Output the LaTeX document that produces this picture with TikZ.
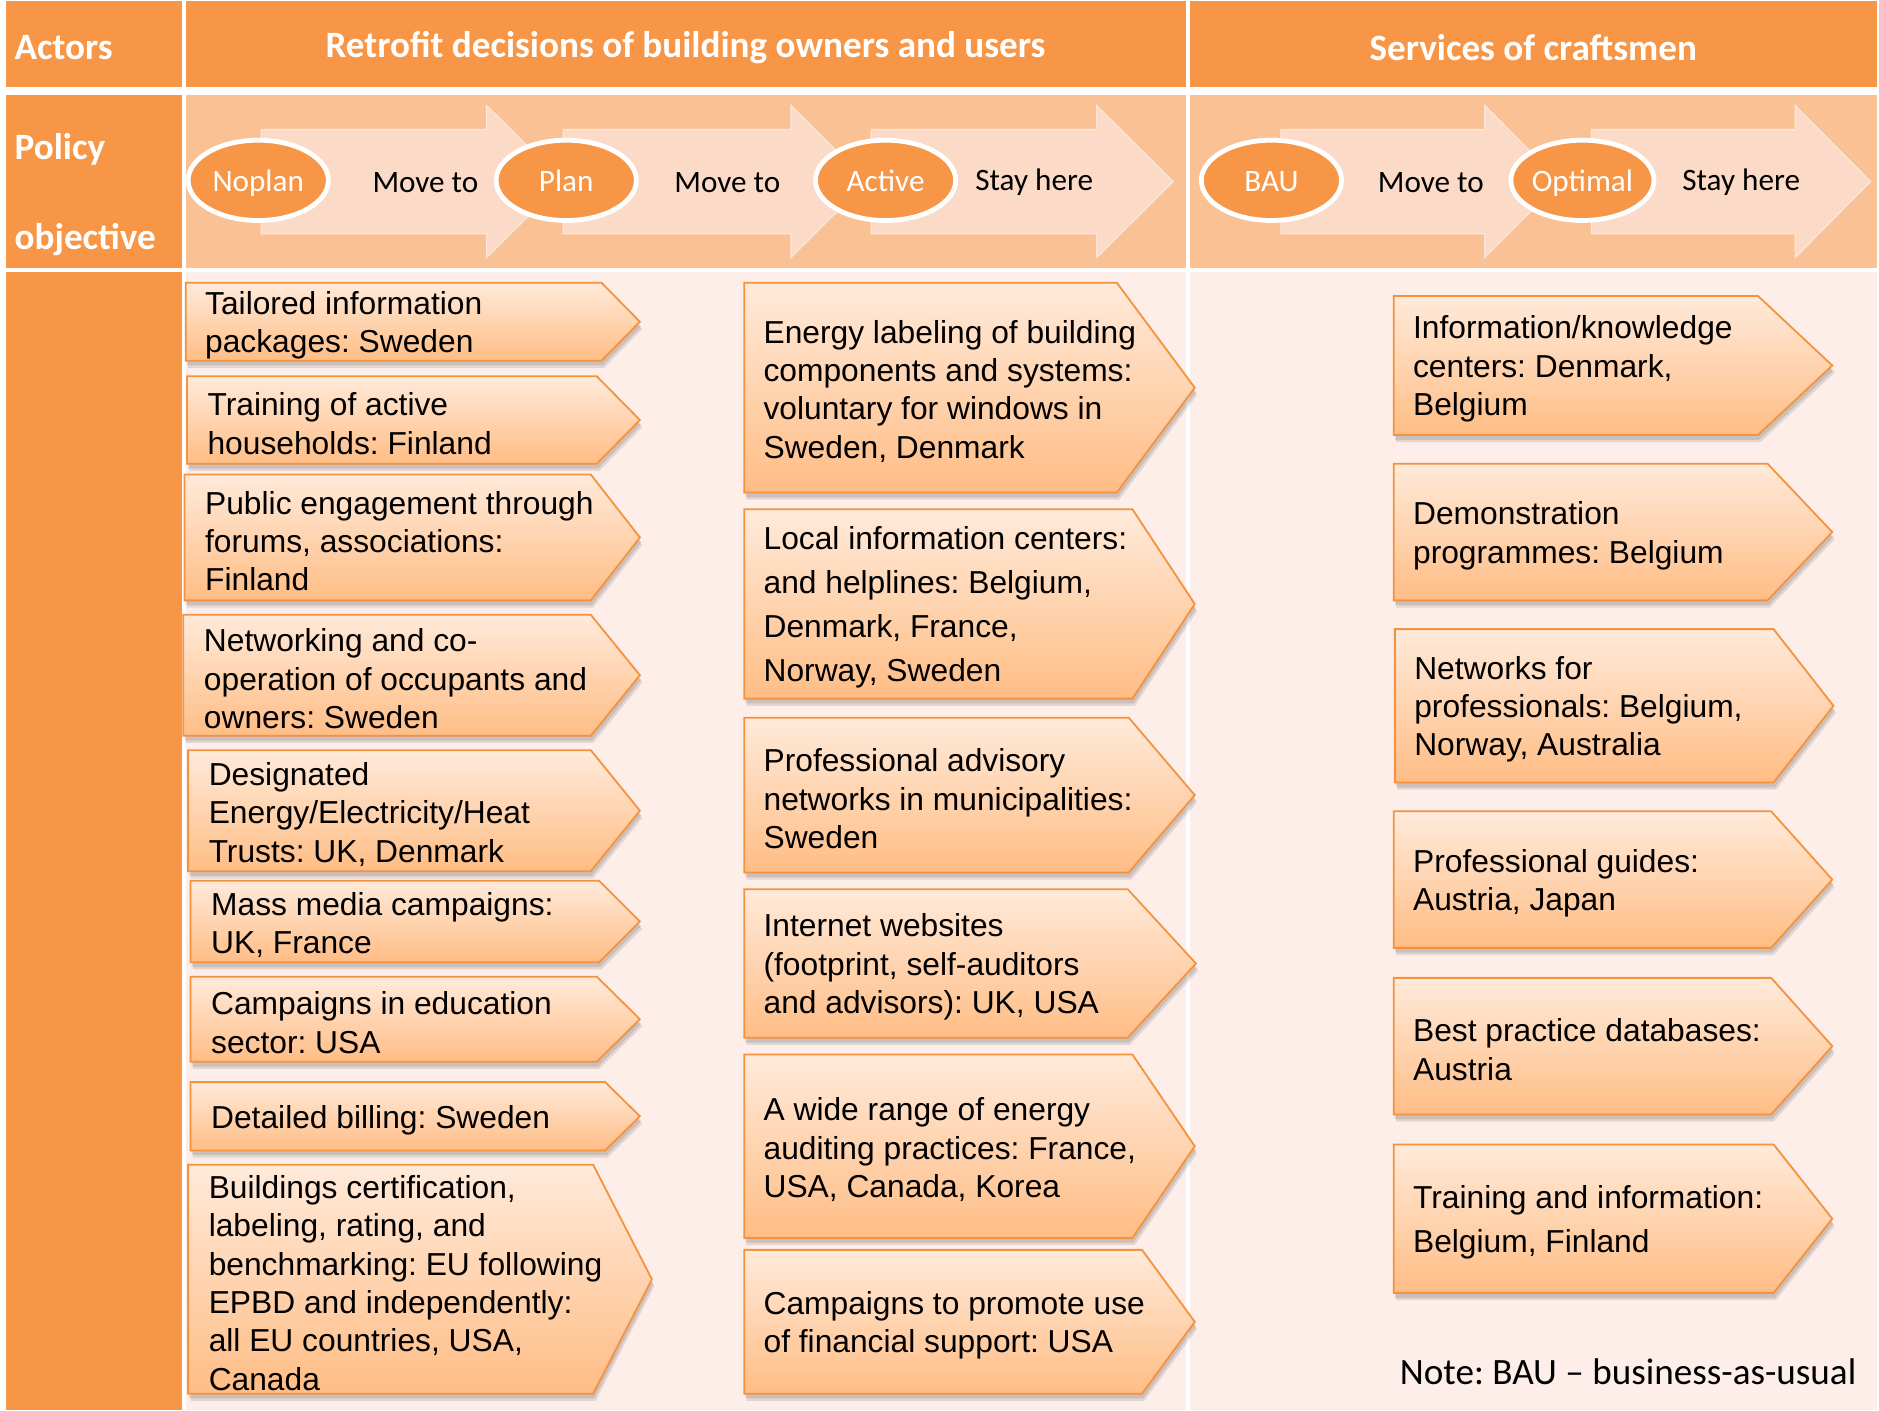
\documentclass[tikz,border=0pt]{standalone}
\usepackage{fontspec}
\setmainfont{Liberation Sans}
\newfontfamily\calib{Carlito}
\usetikzlibrary{shapes.geometric}
\frenchspacing
\definecolor{orD}{HTML}{F79646}
\definecolor{rowB}{HTML}{FAC194}
\definecolor{rowC}{HTML}{FDEEE9}
\definecolor{arrC}{HTML}{FBDBC8}
\definecolor{boxT}{HTML}{FFEADA}
\definecolor{boxB}{HTML}{FFBD85}
\definecolor{boxE}{HTML}{F5923E}
\tikzset{
  hdr/.style={font=\calib\bfseries\fontsize{31}{36}\selectfont, text=white, inner sep=0pt},
  stateell/.style={ellipse, draw=white, line width=4pt, fill=orD, minimum width=117pt, minimum height=67pt, inner sep=0pt, text height=18pt, text depth=0pt, text=white, font=\calib\fontsize{26}{30}\selectfont},
  movetxt/.style={font=\calib\fontsize{26}{30}\selectfont, text=black, inner sep=0pt},
  bigarrow/.style={fill=arrC, draw=arrC!70!white, line width=1pt},
  chevbox/.style={top color=boxT, bottom color=boxB, draw=boxE, line width=1.5pt, line join=miter},
  chevshadow/.style={fill=black, opacity=0.10},
  boxtext/.style={font=\frenchspacing\fontsize{26.5}{32}\selectfont, align=left, inner sep=0pt, anchor=west, text=black},
  widelines/.style={font=\frenchspacing\fontsize{26.5}{36.7}\selectfont},
}
% #1 options, #2 name, #3 left, #4 top, #5 bottom, #6 body right, #7 tip, #8 text x, #9 text
\newcommand\chev[9][]{%
  \fill[chevshadow] (#3+1,#4+4) -- (#6+1,#4+4) -- (#7+1,{(#4+#5)/2+4}) -- (#6+1,#5+4) -- (#3+1,#5+4) -- cycle;
  \fill[chevshadow] (#3+2,#4+6) -- (#6+2,#4+6) -- (#7+2,{(#4+#5)/2+6}) -- (#6+2,#5+6) -- (#3+2,#5+6) -- cycle;
  \path[chevbox] (#3,#4) -- (#6,#4) -- (#7,{(#4+#5)/2}) -- (#6,#5) -- (#3,#5) -- cycle;
  \node[boxtext,#1] (#2) at (#8,{(#4+#5)/2+3}) {#9};
}
\newcommand\bigarr[3]{%
  \path[bigarrow] (#1,108) -- (#2,108) -- (#2,88) -- (#3,151.5) -- (#2,215) -- (#2,195) -- (#1,195) -- cycle;
}
\begin{document}
\begin{tikzpicture}[x=1pt,y=-1pt]
\useasboundingbox (0,0) rectangle (1568,1177);
\fill[white] (0,0) rectangle (1568,1177);
% header row
\fill[orD] (5,1) rectangle (152,73);
\fill[orD] (155,1) rectangle (990,73);
\fill[orD] (993,1) rectangle (1566,73);
% policy row
\fill[orD] (5,79) rectangle (152,224);
\fill[rowB] (155,79) rectangle (990,224);
\fill[rowB] (993,79) rectangle (1566,224);
% body row
\fill[orD] (5,227) rectangle (152,1177);
\fill[rowC] (155,227) rectangle (990,1177);
\fill[rowC] (993,227) rectangle (1566,1177);

% header texts
\node[hdr, anchor=west] (actors) at (12,40) {Actors};
\node[hdr] (retro) at (572,40) {Retrofit decisions of building owners and users};
\node[hdr] (serv) at (1279.5,40) {Services of craftsmen};
\node[hdr, anchor=west] (policy) at (12,125) {Policy};
\node[hdr, anchor=west] (objective) at (12,200) {objective};

% big arrows
\bigarr{218}{406}{470}
\bigarr{470}{660}{724}
\bigarr{727}{915}{979}
\bigarr{1069}{1239}{1302}
\bigarr{1328}{1498}{1561}

% states
\node[stateell] (noplan) at (215.5,150.5) {Noplan};
\node[stateell] (plan) at (472.5,150.5) {Plan};
\node[stateell] (active) at (739,150.5) {Active};
\node[stateell] (bau) at (1061,150.5) {BAU};
\node[stateell] (optimal) at (1320.5,150.5) {Optimal};
\node[movetxt] (mv1) at (355,152) {Move to};
\node[movetxt] (mv2) at (607,152) {Move to};
\node[movetxt] (st1) at (863,152) {Stay here};
\node[movetxt] (mv3) at (1194,152) {Move to};
\node[movetxt] (st2) at (1453,152) {Stay here};

% left column boxes
\chev{a1}{155}{236}{301}{502}{534}{171}{Tailored information\\packages: Sweden}
\chev{a2}{156}{314}{387}{498}{534}{173}{Training of active\\households: Finland}
\chev{a3}{154}{396}{501}{493}{534}{171}{Public engagement through\\forums, associations:\\Finland}
\chev{a4}{153}{513}{614}{493}{534}{170}{Networking and co-\\operation of occupants and\\owners: Sweden}
\chev{a5}{157}{626}{727}{493}{534}{174}{Designated\\Energy/Electricity/Heat\\Trusts: UK, Denmark}
\chev{a6}{159}{735}{803}{500}{534}{176}{Mass media campaigns:\\UK, France}
\chev{a7}{159}{815}{886}{498}{534}{176}{Campaigns in education\\sector: USA}
\chev{a8}{159}{903}{960}{505}{534}{176}{Detailed billing: Sweden}
\chev{a9}{157}{972}{1163}{495}{544}{174}{Buildings certification,\\labeling, rating, and\\benchmarking: EU following\\EPBD and independently:\\all EU countries, USA,\\Canada}

% middle column boxes
\chev{b1}{621}{236}{411}{932}{997}{637}{Energy labeling of building\\components and systems:\\voluntary for windows in\\Sweden, Denmark}
\chev[widelines]{b2}{621}{425}{583}{945}{997}{637}{Local information centers:\\and helplines: Belgium,\\Denmark, France,\\Norway, Sweden}
\chev{b3}{621}{599}{728}{942}{997}{637}{Professional advisory\\networks in municipalities:\\Sweden}
\chev{b4}{621}{742}{866}{941}{998}{637}{Internet websites\\(footprint, self-auditors\\and advisors): UK, USA}
\chev{b5}{621}{880}{1033}{945}{997}{637}{A wide range of energy\\auditing practices: France,\\USA, Canada, Korea}
\chev{b6}{621}{1043}{1163}{953}{997}{637}{Campaigns to promote use\\of financial support: USA}

% right column boxes
\chev{c1}{1163}{247}{363}{1467}{1529}{1179}{Information/knowledge\\centers: Denmark,\\Belgium}
\chev{c2}{1163}{387}{501}{1475}{1529}{1179}{Demonstration\\programmes: Belgium}
\chev{c3}{1164}{525}{653}{1480}{1530}{1180}{Networks for\\professionals: Belgium,\\Norway, Australia}
\chev{c4}{1163}{677}{791}{1478}{1529}{1179}{Professional guides:\\Austria, Japan}
\chev{c5}{1163}{816}{930}{1478}{1529}{1179}{Best practice databases:\\Austria}
\chev[widelines]{c6}{1163}{955}{1079}{1480}{1529}{1179}{Training and information:\\Belgium, Finland}

% note
\node[movetxt, anchor=west, font=\calib\fontsize{31}{34}\selectfont] (note) at (1168,1145) {Note: BAU – business-as-usual};
\end{tikzpicture}
\end{document}
